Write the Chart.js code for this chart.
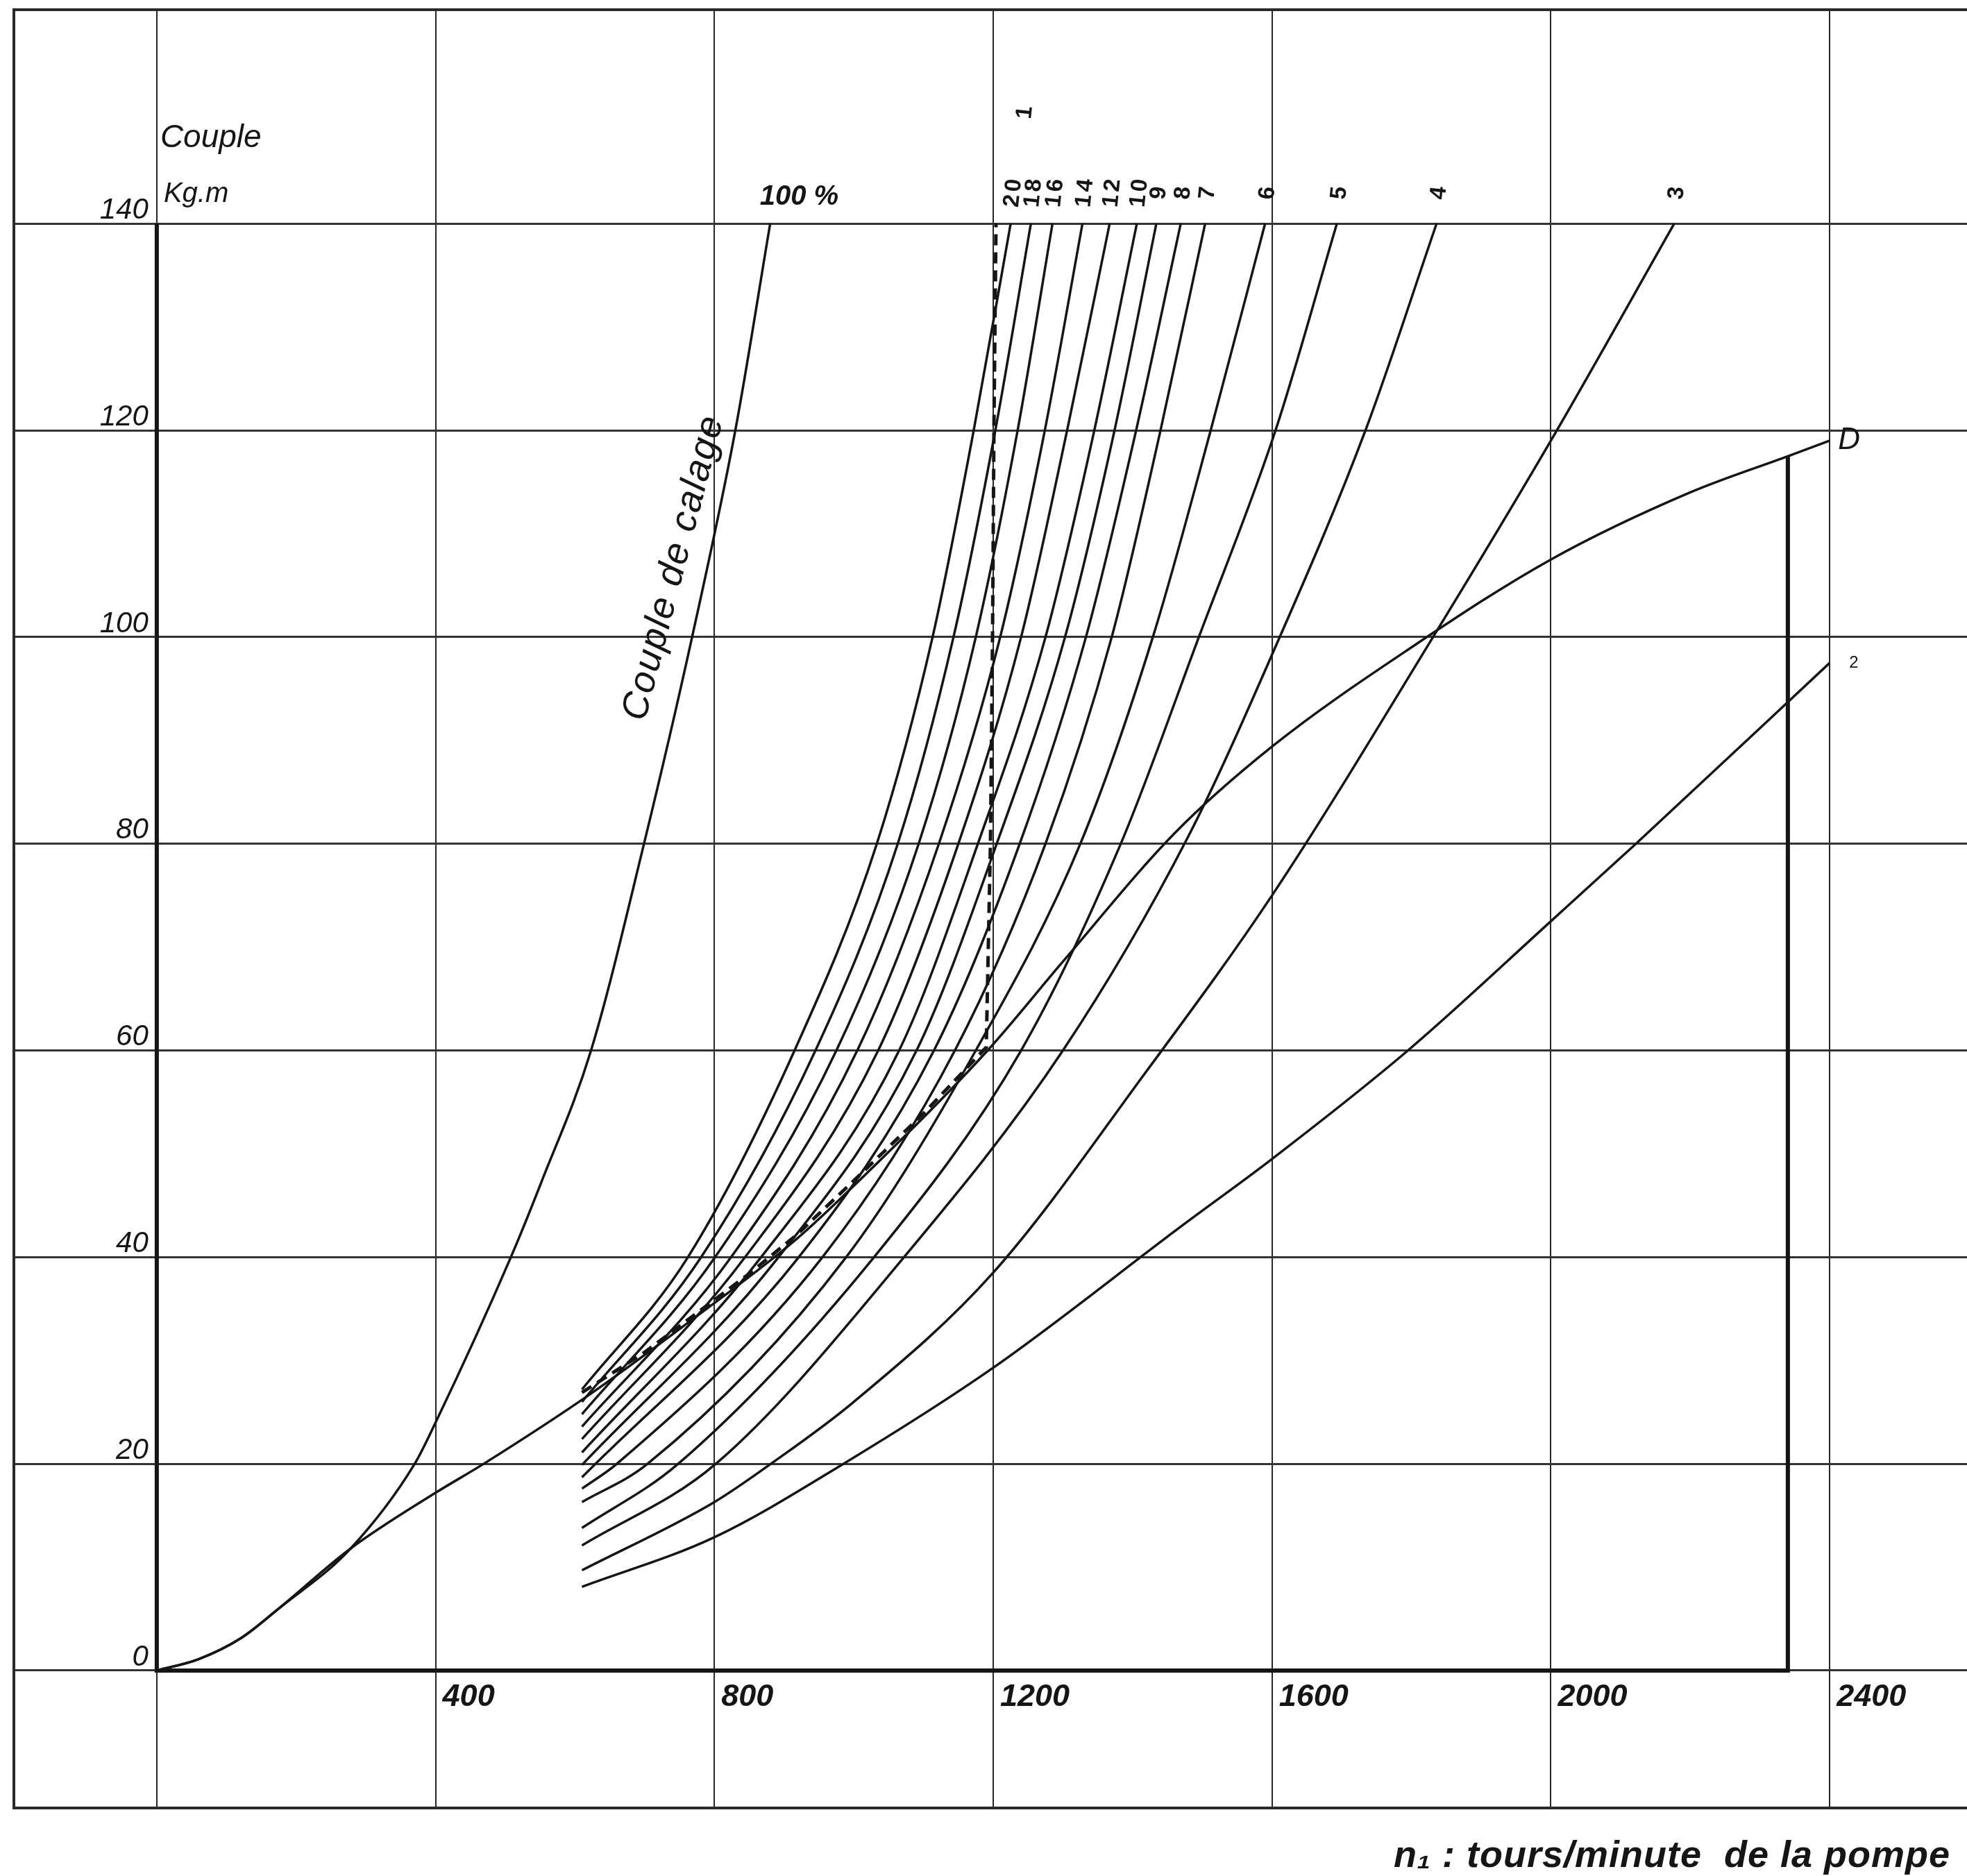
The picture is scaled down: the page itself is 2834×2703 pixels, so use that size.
<!DOCTYPE html>
<html lang="fr">
<head>
<meta charset="UTF-8">
<title>Couple - tours/minute de la pompe</title>
<script src="https://cdn.jsdelivr.net/npm/chart.js"></script>
<style>
  html,body { margin:0; padding:0; background:#fff; }
  #wrap { position:relative; width:2834px; height:2703px; }
</style>
</head>
<body>
<div id="wrap"><canvas id="chart" width="2834" height="2703"></canvas></div>
<script>
// axis ticks
const xTicks = [0, 400, 800, 1200, 1600, 2000, 2400];
const yTicks = [0, 20, 40, 60, 80, 100, 120, 140];

// couple de calage (100 %) : [tours/min, kg.m]
const calage = [[0,0],[60,1.1],[120,3.1],[175,6.0],[278,11.8],[370,20],[400,24],[508,40],[552,47.3],[623,60],[699,80],[768,100],[830,120],[880,140]];
// courbe D
const courbeD = [[0,0],[60,1.1],[120,3.1],[175,6.0],[278,11.8],[400,17.2],[469,20],[623,26.8],[775,34.3],[917,41.7],[1000,46.9],[1192,60],[1300,68.6],[1460,81],[1600,89.4],[1800,99],[2000,107.5],[2200,114],[2340,117.5],[2400,119]];
// courbe 1 (tiretée)
const courbe1 = [[610,26.9],[700,30.8],[775,34.6],[850,38.4],[917,42.1],[1000,47.4],[1100,53.9],[1190,60.3],[1196,80],[1199,100],[1201,120],[1204,140]];

// famille de courbes
const c20 = [[610,27.2],[762,40],[915,60],[1033,80],[1113,100],[1172,120],[1225,140]];
const c18 = [[610,26.0],[781,40],[945,60],[1063,80],[1143,100],[1203,120],[1254,140]];
const c16 = [[610,24.8],[801,40],[975,60],[1093,80],[1175,100],[1235,120],[1285,140]];
const c14 = [[610,23.6],[824,40],[1005,60],[1122,80],[1210,100],[1274,120],[1328,140]];
const c12 = [[610,22.4],[844,40],[1035,60],[1150,80],[1240,100],[1306,120],[1367,140]];
const c10 = [[610,21.1],[867,40],[1065,60],[1178,80],[1275,100],[1345,120],[1406,140]];
const c9  = [[610,19.9],[892,40],[1090,60],[1205,80],[1303,100],[1374,120],[1434,140]];
const c8  = [[610,18.7],[921,40],[1115,60],[1238,80],[1333,100],[1405,120],[1469,140]];
const c7  = [[610,17.6],[660,20],[955,40],[1145,60],[1275,80],[1370,100],[1440,120],[1504,140]];
const c6  = [[610,16.3],[704,20],[989,40],[1175,60],[1325,80],[1429,100],[1512,120],[1590,140]];
const c5  = [[610,13.8],[748,20],[1029,40],[1240,60],[1383,80],[1495,100],[1605,120],[1693,140]];
const c4  = [[610,12.1],[802,20],[1072,40],[1300,60],[1479,80.6],[1600,98.3],[1734,120],[1836,140]];
const c3  = [[610,9.7],[800,16.3],[881,20],[1000,26],[1200,38.5],[1420,58],[1600,75],[1831,100],[2000,119],[2177,140]];
const c2  = [[610,8.1],[800,12.9],[985,20],[1200,29.3],[1470,43],[1600,49.5],[1795,60],[2000,72.5],[2122,80],[2400,97.5]];

const famille = [c20, c18, c16, c14, c12, c10, c9, c8, c7, c6, c5, c4, c3];
const familleLabels = ['20','18','16','14','12','10','9','8','7','6','5','4','3'];

// cadre : axe vertical, axe horizontal, verticale finale
const cadre = [[0,140],[0,0],[2340,0],[2340,117.5]];

const INK = '#151515';
const FONT = '"Liberation Sans", "DejaVu Sans", sans-serif';

function serie(pts, extra) {
  return Object.assign({
    data: pts.map(p => ({x: p[0], y: p[1]})),
    showLine: true, pointRadius: 0, borderColor: INK, borderWidth: 3.5,
    cubicInterpolationMode: 'monotone', fill: false
  }, extra || {});
}

const datasets = [
  serie(cadre, {borderWidth: 6, cubicInterpolationMode: 'default', tension: 0}),
  serie(calage),
  serie(courbeD),
  serie(courbe1, {borderDash: [16, 10], borderWidth: 5, cubicInterpolationMode: 'default', tension: 0}),
  ...famille.map(c => serie(c)),
  serie(c2)
];

function text(ctx, s, x, y, font, align, base, rot, spacing) {
  ctx.save();
  ctx.translate(x, y);
  if (rot) ctx.rotate(rot * Math.PI / 180);
  ctx.font = font;
  if (spacing) ctx.letterSpacing = spacing;
  ctx.fillStyle = INK;
  ctx.textAlign = align || 'left';
  ctx.textBaseline = base || 'alphabetic';
  ctx.fillText(s, 0, 0);
  ctx.restore();
}

const decor = {
  id: 'decor',
  beforeDraw(chart) {
    const ctx = chart.ctx;
    ctx.save();
    ctx.fillStyle = '#fff';
    ctx.fillRect(0, 0, chart.width, chart.height);
    ctx.restore();
  },
  beforeDatasetsDraw(chart) {
    const {ctx, chartArea: a} = chart;
    ctx.save();
    ctx.strokeStyle = '#2a2a2a';
    ctx.lineWidth = 4;
    ctx.beginPath();
    ctx.moveTo(a.right, a.top); ctx.lineTo(a.left, a.top);
    ctx.lineTo(a.left, a.bottom); ctx.lineTo(a.right, a.bottom);
    ctx.stroke();
    ctx.restore();
  },
  afterDraw(chart) {
    const ctx = chart.ctx;
    const sx = chart.scales.x, sy = chart.scales.y;
    const X = v => sx.getPixelForValue(v), Y = v => sy.getPixelForValue(v);

    text(ctx, 'Couple', X(5), Y(147.4), 'italic 46px ' + FONT);
    text(ctx, 'Kg.m', X(10), Y(142.1), 'italic 40px ' + FONT);

    const fin100 = calage[calage.length - 1];
    text(ctx, '100 %', X(fin100[0]) - 15, Y(fin100[1]) - 27, 'italic bold 40px ' + FONT);

    famille.forEach((c, i) => {
      const p = c[c.length - 1];
      text(ctx, familleLabels[i], X(p[0]) + 4, Y(p[1]) - 46, 'bold 33px ' + FONT, 'center', 'middle', -84, '4px');
    });

    const f1 = courbe1[courbe1.length - 1];
    text(ctx, '1', X(f1[0]) + 42, Y(f1[1]) - 160, 'bold 33px ' + FONT, 'center', 'middle', -84);

    const fD = courbeD[courbeD.length - 1];
    text(ctx, 'D', X(fD[0]) + 12, Y(fD[1]), 'italic 44px ' + FONT, 'left', 'middle');
    const f2 = c2[c2.length - 1];
    text(ctx, '2', X(f2[0]) + 28, Y(f2[1]), '24px ' + FONT, 'left', 'middle');

    text(ctx, 'Couple de calage', X(742), Y(106.7), 'italic 54px ' + FONT, 'center', 'middle', -75.5, '2px');

    text(ctx, 'n\u2081 : tours/minute  de la pompe', 2810, 2690, 'italic bold 54px ' + FONT, 'right', 'alphabetic', 0, '1px');
  }
};

new Chart(document.getElementById('chart'), {
  type: 'scatter',
  data: { datasets },
  options: {
    responsive: false,
    animation: false,
    layout: { padding: { left: 20, top: 14, right: 0, bottom: 98 } },
    plugins: { legend: { display: false }, tooltip: { enabled: false } },
    scales: {
      x: {
        type: 'linear', min: -205, max: 2597, position: { y: 0 },
        afterBuildTicks: s => { s.ticks = xTicks.map(v => ({ value: v })); },
        afterFit: s => { s.paddingLeft = 0; s.paddingRight = 0; s.paddingTop = 0; s.paddingBottom = 0; },
        grid: { color: '#262626', lineWidth: 2, drawTicks: false },
        border: { display: false },
        ticks: {
          align: 'start', padding: 12, labelOffset: 10, autoSkip: false, maxRotation: 0,
          color: INK, font: { family: FONT, size: 45, style: 'italic', weight: 'bold' },
          callback: v => v === 0 ? '' : String(v)
        }
      },
      y: {
        type: 'linear', min: -13.3, max: 160.7, position: { x: -12 },
        afterBuildTicks: s => { s.ticks = yTicks.map(v => ({ value: v })); },
        afterFit: s => { s.paddingLeft = 0; s.paddingRight = 0; s.paddingTop = 0; s.paddingBottom = 0; },
        grid: { color: '#333', lineWidth: 3, drawTicks: false },
        border: { display: false },
        ticks: {
          padding: 0, labelOffset: -19, autoSkip: false,
          color: INK, font: { family: FONT, size: 42, style: 'italic' },
          callback: v => String(v)
        }
      }
    }
  },
  plugins: [decor]
});
</script>
</body>
</html>
